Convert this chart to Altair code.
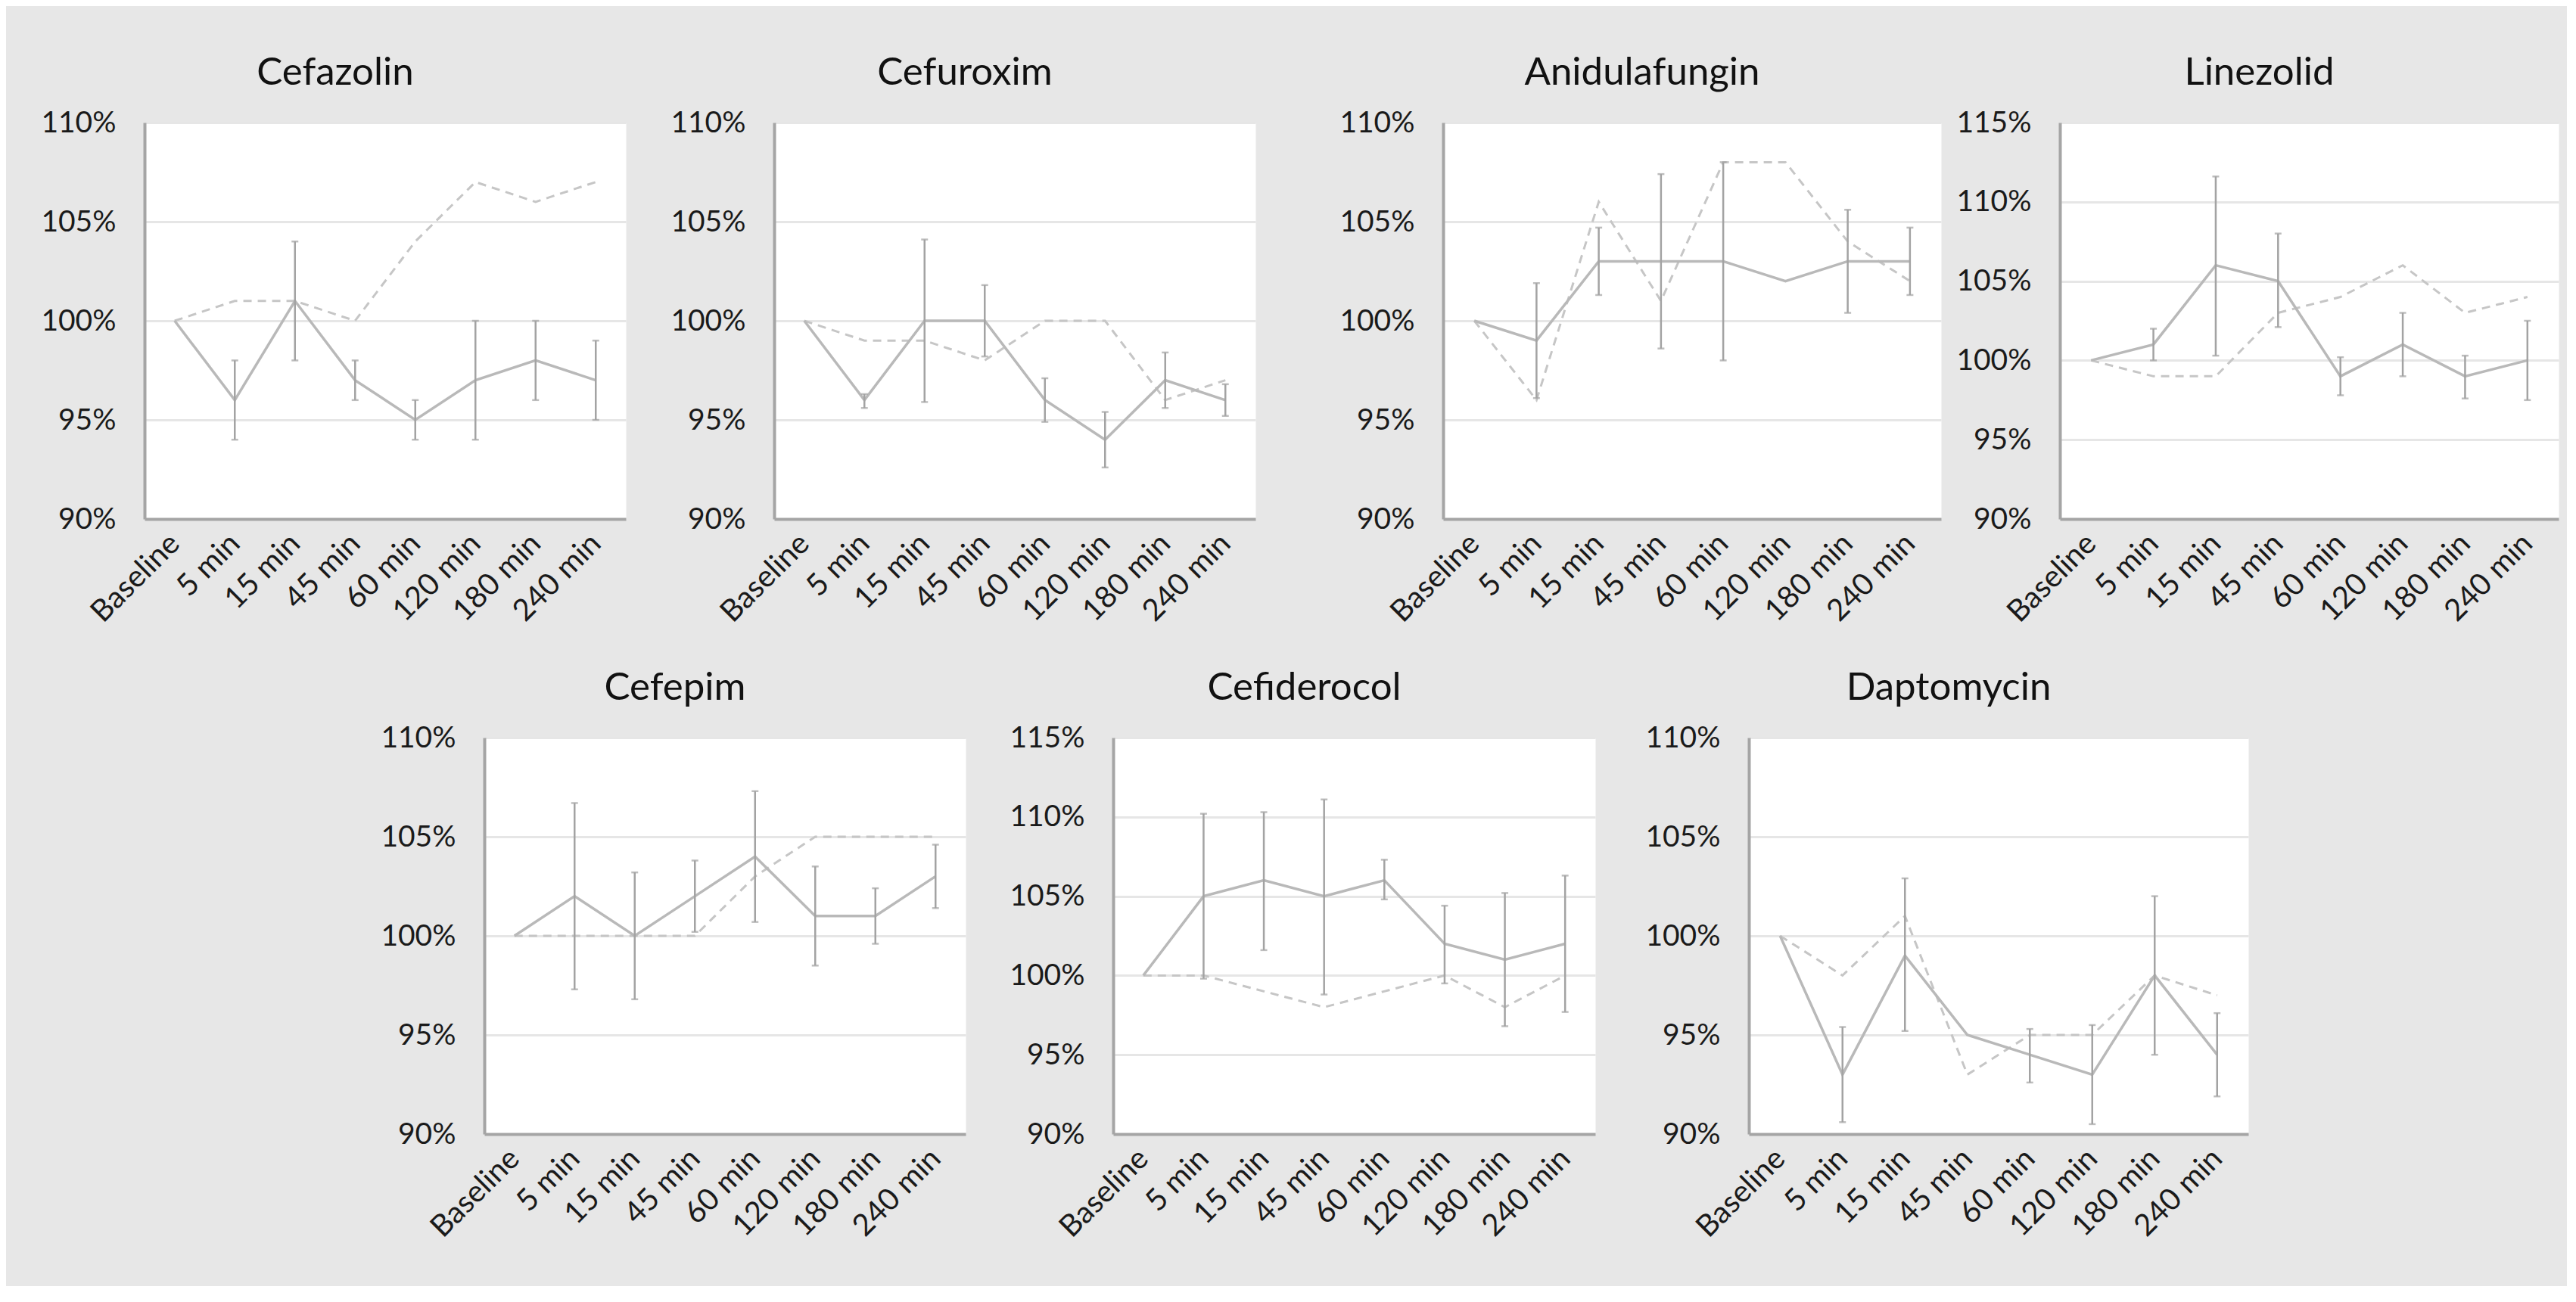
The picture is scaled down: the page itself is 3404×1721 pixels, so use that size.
import altair as alt
import pandas as pd

times = ["Baseline", "5 min", "15 min", "45 min", "60 min", "120 min", "180 min", "240 min"]

# Cefazolin
cefazolin_mean = [100, 96, 101, 97, 95, 97, 98, 97]
cefazolin_lo = [None, 94, 98, 96, 94, 94, 96, 95]
cefazolin_hi = [None, 98, 104, 98, 96, 100, 100, 99]
cefazolin_dash = [100, 101, 101, 100, 104, 107, 106, 107]

# Cefuroxim
cefuroxim_mean = [100, 96, 100, 100, 96, 94, 97, 96]
cefuroxim_lo = [None, 95.6, 95.9, 98.2, 94.9, 92.6, 95.6, 95.2]
cefuroxim_hi = [None, 96.3, 104.1, 101.8, 97.1, 95.4, 98.4, 96.8]
cefuroxim_dash = [100, 99, 99, 98, 100, 100, 96, 97]

# Anidulafungin
anidula_mean = [100, 99, 103, 103, 103, 102, 103, 103]
anidula_lo = [None, 96.1, 101.3, 98.6, 98.0, None, 100.4, 101.3]
anidula_hi = [None, 101.9, 104.7, 107.4, 108.0, None, 105.6, 104.7]
anidula_dash = [100, 96, 106, 101, 108, 108, 104, 102]

# Linezolid
linezolid_mean = [100, 101, 106, 105, 99, 101, 99, 100]
linezolid_lo = [None, 100.0, 100.3, 102.1, 97.8, 99.0, 97.6, 97.5]
linezolid_hi = [None, 102.0, 111.6, 108.0, 100.2, 103.0, 100.3, 102.5]
linezolid_dash = [100, 99, 99, 103, 104, 106, 103, 104]

# Cefepim
cefepim_mean = [100, 102, 100, 102, 104, 101, 101, 103]
cefepim_lo = [None, 97.3, 96.8, 100.2, 100.7, 98.5, 99.6, 101.4]
cefepim_hi = [None, 106.7, 103.2, 103.8, 107.3, 103.5, 102.4, 104.6]
cefepim_dash = [100, 100, 100, 100, 103, 105, 105, 105]

# Cefiderocol
cefiderocol_mean = [100, 105, 106, 105, 106, 102, 101, 102]
cefiderocol_lo = [None, 99.8, 101.6, 98.8, 104.8, 99.5, 96.8, 97.7]
cefiderocol_hi = [None, 110.2, 110.3, 111.1, 107.3, 104.4, 105.2, 106.3]
cefiderocol_dash = [100, 100, 99, 98, 99, 100, 98, 100]

# Daptomycin
dapto_mean = [100, 93, 99, 95, 94, 93, 98, 94]
dapto_lo = [None, 90.6, 95.2, None, 92.6, 90.5, 94.0, 91.9]
dapto_hi = [None, 95.4, 102.9, None, 95.3, 95.5, 102.0, 96.1]
dapto_dash = [100, 98, 101, 93, 95, 95, 98, 97]

FONT = "Lato"
SOLID = "#b9b9b9"
DASH = "#c6c6c6"
ERR = "#a3a3a3"


def panel(name, mean, lo, hi, dash, ymax, width, y_extent, height=524, title_offset=20):
    df = pd.DataFrame({"time": times, "mean": mean, "lo": lo, "hi": hi, "dash": dash})
    base = alt.Chart(df)
    x = alt.X(
        "time:N",
        sort=times,
        title=None,
        scale=alt.Scale(type="point", padding=0.5),
        axis=alt.Axis(
            labelAngle=315, labelAlign="right", labelBaseline="middle",
            labelFontSize=40, labelFont=FONT, labelColor="#1a1a1a",
            labelPadding=26, ticks=False, grid=False,
            domainColor="#a5a5a5", domainWidth=4,
        ),
    )
    yscale = alt.Scale(domain=[90, ymax], nice=False, zero=False)
    ticks = list(range(90, ymax + 1, 5))
    yaxis = alt.Axis(
        values=ticks, labelExpr="datum.value + '%'",
        labelFontSize=39, labelFont=FONT, labelColor="#1a1a1a",
        labelPadding=38, ticks=False, grid=True, gridColor="#e6e6e6", gridWidth=3,
        domainColor="#a5a5a5", domainWidth=4,
        minExtent=y_extent, maxExtent=y_extent,
    )
    dash_line = base.mark_line(color=DASH, strokeWidth=3, strokeDash=[11, 8]).encode(
        x=x, y=alt.Y("dash:Q", scale=yscale, axis=yaxis, title=None)
    )
    solid_line = base.mark_line(color=SOLID, strokeWidth=3.5).encode(
        x=x, y=alt.Y("mean:Q", scale=yscale, title=None)
    )
    eb = base.transform_filter("isValid(datum.lo)")
    rule = eb.mark_rule(color=ERR, strokeWidth=2.5).encode(
        x=x, y=alt.Y("lo:Q", scale=yscale, title=None), y2="hi:Q"
    )
    cap_lo = eb.mark_tick(color=ERR, size=9, thickness=2.5).encode(
        x=x, y=alt.Y("lo:Q", scale=yscale, title=None)
    )
    cap_hi = eb.mark_tick(color=ERR, size=9, thickness=2.5).encode(
        x=x, y=alt.Y("hi:Q", scale=yscale, title=None)
    )
    return alt.layer(dash_line, solid_line, rule, cap_lo, cap_hi).properties(
        width=width, height=height,
        title=alt.TitleParams(
            text=name, fontSize=51, font=FONT, fontWeight="normal", color="#111111",
            anchor="middle", frame="group", dx=-66, offset=title_offset,
        ),
    )


p1 = panel("Cefazolin", cefazolin_mean, cefazolin_lo, cefazolin_hi, cefazolin_dash, 110, 636, 134)
p2 = panel("Cefuroxim", cefuroxim_mean, cefuroxim_lo, cefuroxim_hi, cefuroxim_dash, 110, 636, 194)
p3 = panel("Anidulafungin", anidula_mean, anidula_lo, anidula_hi, anidula_dash, 110, 658, 246)
p4 = panel("Linezolid", linezolid_mean, linezolid_lo, linezolid_hi, linezolid_dash, 115, 659, 155)
p5 = panel("Cefepim", cefepim_mean, cefepim_lo, cefepim_hi, cefepim_dash, 110, 636, 134)
p6 = panel("Cefiderocol", cefiderocol_mean, cefiderocol_lo, cefiderocol_hi, cefiderocol_dash, 115, 637, 193)
p7 = panel("Daptomycin", dapto_mean, dapto_lo, dapto_hi, dapto_dash, 110, 660, 201)

spacer = alt.Chart(pd.DataFrame({"v": [0]})).mark_point(opacity=0).properties(
    width=310, height=524,
    view=alt.ViewBackground(fill="transparent", stroke="transparent"),
)

top = alt.hconcat(p1, p2, p3, p4, spacing=0)
bottom = alt.hconcat(spacer, p5, p6, p7, spacing=0)

chart = alt.vconcat(top, bottom, spacing=52).properties(
    background="#e7e7e7",
    padding={"left": 45, "top": 62, "right": 10, "bottom": 56},
).configure(font=FONT).configure_view(fill="white", stroke="transparent")

chart.save("out.html", embed_options={"renderer": "svg", "actions": False})
